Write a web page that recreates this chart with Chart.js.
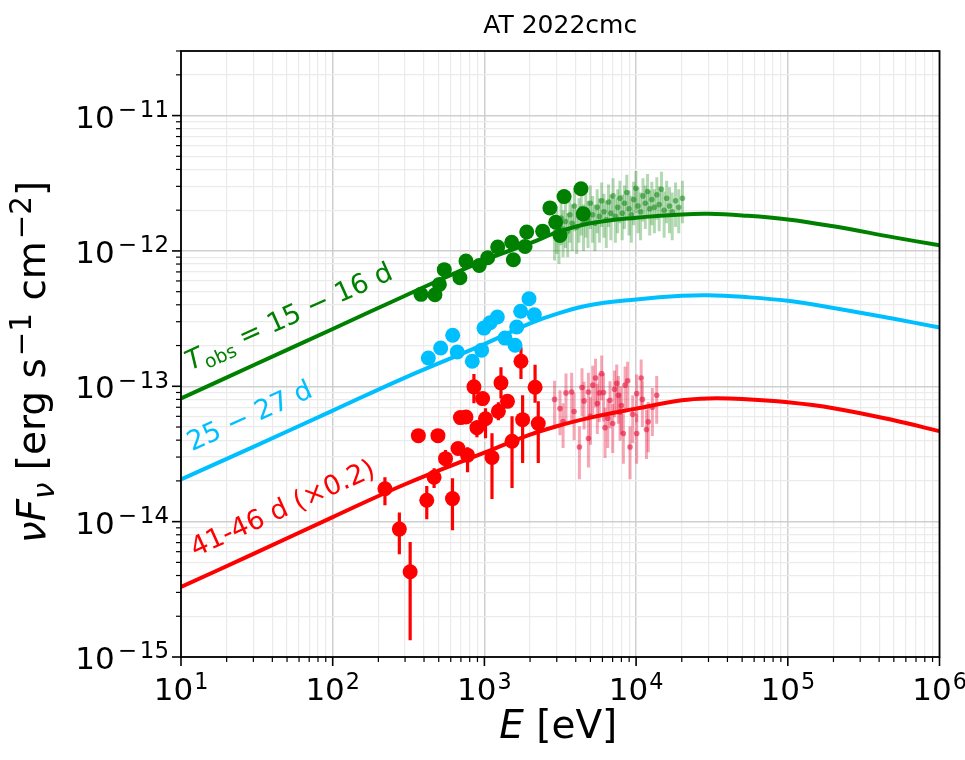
<!DOCTYPE html>
<html>
<head>
<meta charset="utf-8">
<title>AT 2022cmc</title>
<script src="https://cdn.jsdelivr.net/npm/chart.js@4.4.0/dist/chart.umd.min.js"></script>
<style>
  html, body { margin: 0; padding: 0; background: #fff; }
</style>
</head>
<body>
<canvas id="sedChart" width="965" height="760"></canvas>
<script>
// axis decades
const xExps = [1, 2, 3, 4, 5, 6];
const yExps = [-15, -14, -13, -12, -11];
const xMin = 1e1, xMax = 1e6;
const yMin = 1e-15, yMax = 3e-11;

// model curves
const modelE = [10, 30, 100, 300, 1e3, 2e3, 3e3, 5e3, 1e4, 2e4, 3e4, 5e4, 1e5, 2e5, 5e5, 1e6];
const modelEarly = [8.14e-14, 1.43e-13, 2.65e-13, 4.67e-13, 8.53e-13, 1.14e-12, 1.37e-12, 1.60e-12, 1.76e-12, 1.86e-12, 1.88e-12, 1.83e-12, 1.71e-12, 1.52e-12, 1.26e-12, 1.10e-12];
const modelMid = [2.05e-14, 3.57e-14, 6.61e-14, 1.16e-13, 2.05e-13, 2.92e-13, 3.43e-13, 3.99e-13, 4.38e-13, 4.66e-13, 4.71e-13, 4.58e-13, 4.28e-13, 3.79e-13, 3.15e-13, 2.72e-13];
const modelLate = [3.29e-15, 5.78e-15, 1.08e-14, 1.89e-14, 3.23e-14, 4.39e-14, 5.07e-14, 5.87e-14, 6.84e-14, 7.89e-14, 8.14e-14, 8.06e-14, 7.62e-14, 6.89e-14, 5.61e-14, 4.66e-14];

// 15-16 d, big markers
const earlyE = [382, 472, 505, 544, 690, 756, 925, 1051, 1224, 1552, 1514, 1854, 1901, 2421, 2705, 2950, 3149, 3350, 4334, 4488];
const earlyF = [4.78e-13, 4.75e-13, 5.66e-13, 7.27e-13, 6.34e-13, 8.41e-13, 7.81e-13, 8.91e-13, 1.07e-12, 8.61e-13, 1.16e-12, 1.08e-12, 1.38e-12, 1.40e-12, 2.08e-12, 1.63e-12, 1.30e-12, 2.52e-12, 2.88e-12, 1.88e-12];

// 15-16 d, faint points with errors
const earlyHardE = [2900, 3000, 3100, 3200, 3300, 3420, 3540, 3660, 3790, 3920, 4060, 4200, 4350, 4500, 4660, 4820, 4990, 5170, 5350, 5540, 5730, 5930, 6140, 6360, 6580, 6810, 7050, 7300, 7560, 7820, 8100, 8380, 8680, 8980, 9300, 9630, 9970, 10300, 10700, 11100, 11500, 11900, 12300, 12700, 13200, 13700, 14200, 14700, 15300, 15900, 16600, 17300, 18200, 19100, 20200];
const earlyHardF = [1.35e-12, 1.55e-12, 1.30e-12, 1.75e-12, 1.45e-12, 1.65e-12, 1.40e-12, 1.85e-12, 1.60e-12, 2.15e-12, 1.50e-12, 1.80e-12, 2.05e-12, 1.60e-12, 1.95e-12, 1.70e-12, 2.25e-12, 1.85e-12, 1.60e-12, 2.10e-12, 1.80e-12, 2.35e-12, 1.95e-12, 1.70e-12, 2.30e-12, 1.90e-12, 2.55e-12, 1.80e-12, 2.10e-12, 2.45e-12, 1.90e-12, 2.25e-12, 2.70e-12, 2.05e-12, 1.85e-12, 2.40e-12, 2.90e-12, 2.15e-12, 1.95e-12, 2.55e-12, 2.25e-12, 2.75e-12, 2.05e-12, 2.40e-12, 2.10e-12, 2.60e-12, 2.20e-12, 2.85e-12, 2.00e-12, 2.45e-12, 2.15e-12, 1.95e-12, 2.35e-12, 2.10e-12, 2.45e-12];
const earlyHardErr = [0.50e-12, 0.60e-12, 0.50e-12, 0.65e-12, 0.55e-12, 0.60e-12, 0.50e-12, 0.70e-12, 0.60e-12, 0.75e-12, 0.55e-12, 0.65e-12, 0.75e-12, 0.60e-12, 0.70e-12, 0.65e-12, 0.80e-12, 0.70e-12, 0.60e-12, 0.75e-12, 0.65e-12, 0.85e-12, 0.70e-12, 0.65e-12, 0.80e-12, 0.70e-12, 0.90e-12, 0.65e-12, 0.75e-12, 0.85e-12, 0.70e-12, 0.80e-12, 0.95e-12, 0.75e-12, 0.70e-12, 0.85e-12, 1.00e-12, 0.80e-12, 0.75e-12, 0.90e-12, 0.80e-12, 0.95e-12, 0.75e-12, 0.85e-12, 0.75e-12, 0.90e-12, 0.80e-12, 1.00e-12, 0.75e-12, 0.85e-12, 0.80e-12, 0.75e-12, 0.85e-12, 0.75e-12, 0.85e-12];

// 25-27 d
const midE = [427, 515, 618, 662, 832, 959, 994, 1089, 1217, 1367, 1592, 1633, 1734, 1968, 2133];
const midF = [1.62e-13, 1.92e-13, 2.38e-13, 1.79e-13, 1.53e-13, 1.85e-13, 2.69e-13, 2.95e-13, 3.25e-13, 2.27e-13, 2.01e-13, 2.74e-13, 3.58e-13, 4.43e-13, 3.38e-13];

// 41-46 d (x0.2), big markers with error bars
const lateE = [221, 275, 324, 367, 417, 466, 494, 554, 616, 670, 695, 756, 774, 853, 893, 973, 1017, 1122, 1236, 1286, 1419, 1521, 1742, 1786, 2158, 2265];
const lateF = [1.75e-14, 8.81e-15, 4.26e-15, 4.32e-14, 1.44e-14, 2.13e-14, 4.32e-14, 2.92e-14, 1.48e-14, 3.47e-14, 5.87e-14, 5.93e-14, 3.10e-14, 9.91e-14, 4.95e-14, 8.11e-14, 5.75e-14, 2.98e-14, 6.53e-14, 1.06e-13, 7.74e-14, 3.93e-14, 1.53e-13, 5.67e-14, 9.84e-14, 5.31e-14];
const lateLo = [1.32e-14, 5.75e-15, 1.33e-15, 4.05e-14, 1.04e-14, 1.77e-14, 4.05e-14, 2.52e-14, 8.65e-15, 3.10e-14, 5.5e-14, 5.5e-14, 2.32e-14, 7.50e-14, 4.21e-14, 7.25e-14, 4.13e-14, 1.47e-14, 5.61e-14, 8.14e-14, 7.0e-14, 1.77e-14, 1.13e-13, 2.71e-14, 7.55e-14, 2.71e-14];
const lateHi = [2.13e-14, 1.17e-14, 7.06e-15, 4.6e-14, 1.83e-14, 2.48e-14, 4.6e-14, 3.38e-14, 2.09e-14, 3.86e-14, 6.3e-14, 6.4e-14, 3.55e-14, 1.23e-13, 5.61e-14, 9.04e-14, 6.89e-14, 4.50e-14, 7.62e-14, 1.38e-13, 8.6e-14, 6.01e-14, 1.94e-13, 8.59e-14, 1.44e-13, 7.74e-14];

// 41-46 d, faint points
const lateHardE = [2900, 3150, 3300, 3450, 3760, 3900, 4230, 4400, 4540, 4850, 4850, 5000, 5180, 5400, 5550, 5720, 5930, 6100, 6240, 6500, 6730, 7010, 7200, 7450, 7640, 7840, 8000, 8240, 8460, 8800, 9120, 9500, 10090, 10090, 10800, 11000, 11700, 12030, 12800, 13670];
const lateHardF = [8.0e-14, 6.84e-14, 5.5e-14, 8.94e-14, 9.08e-14, 6.5e-14, 3.56e-14, 9.8e-14, 7.80e-14, 4.11e-14, 9.08e-14, 6.0e-14, 1.02e-13, 1.15e-13, 7.45e-14, 8.94e-14, 1.24e-13, 9.0e-14, 4.95e-14, 5.8e-14, 7.88e-14, 5.31e-14, 9.5e-14, 1.05e-13, 8.59e-14, 6.46e-14, 7.2e-14, 4.48e-14, 1.02e-13, 1.1e-13, 3.56e-14, 6.2e-14, 8.83e-14, 4.48e-14, 1.15e-13, 8.0e-14, 4.8e-14, 5.46e-14, 7.0e-14, 8.59e-14];
const lateHardErr = [3.0e-14, 2.5e-14, 2.0e-14, 3.5e-14, 3.5e-14, 2.5e-14, 1.5e-14, 3.8e-14, 3.0e-14, 1.6e-14, 3.5e-14, 2.3e-14, 4.0e-14, 4.5e-14, 3.0e-14, 3.5e-14, 4.5e-14, 3.5e-14, 2.0e-14, 2.3e-14, 3.0e-14, 2.1e-14, 3.6e-14, 4.0e-14, 3.3e-14, 2.5e-14, 2.8e-14, 1.8e-14, 3.8e-14, 4.2e-14, 1.5e-14, 2.4e-14, 3.4e-14, 1.8e-14, 4.3e-14, 3.0e-14, 1.9e-14, 2.2e-14, 2.7e-14, 3.3e-14];

const GREEN = '#008000';
const BLUE = '#00bfff';
const RED = '#ff0000';
const FONT = '"DejaVu Sans", "Noto Sans", sans-serif';

const pts = (xs, ys) => xs.map((x, i) => ({ x: x, y: ys[i] }));

function logTicks(exps) {
    const out = [];
    exps.forEach((e, k) => {
        const last = k === exps.length - 1;
        for (let n = 1; n <= (last ? 1 : 9); n++) out.push(n * Math.pow(10, e));
    });
    return out;
}
const xTickVals = logTicks(xExps);
const yTickVals = logTicks(yExps).concat([2e-11, 3e-11]);

const isMajor = v => Math.abs(Math.log10(v) - Math.round(Math.log10(v))) < 1e-6;

function fontFor(p, size, sc) {
    const s = (p.sup || p.sub) ? size * sc : size;
    return (p.it ? 'italic ' : '') + s.toFixed(1) + 'px ' + FONT;
}

// draws a run of text pieces with italics / super- and subscripts
function drawRich(ctx, parts, x, y, size, align, sc, raise) {
    sc = sc || 0.7;
    raise = raise || 0.4;
    let w = 0;
    parts.forEach(p => { ctx.font = fontFor(p, size, sc); w += ctx.measureText(p.t).width + (p.gap || 0); });
    let cx = align === 'center' ? x - w / 2 : (align === 'right' ? x - w : x);
    ctx.textAlign = 'left';
    ctx.textBaseline = 'alphabetic';
    parts.forEach(p => {
        ctx.font = fontFor(p, size, sc);
        cx += (p.gap || 0);
        const dy = p.sup ? -size * raise : (p.sub ? size * 0.22 : 0);
        ctx.fillText(p.t, cx, y + dy);
        cx += ctx.measureText(p.t).width;
    });
}

function powLabel(e) {
    if (e < 0) return [{ t: '10' }, { t: '\u2212', sup: true, gap: 3 }, { t: String(-e), sup: true, gap: 3 }];
    return [{ t: '10' }, { t: String(e), sup: true, gap: 1 }];
}

const sedDecor = {
    id: 'sedDecor',
    beforeDatasetDraw(chart, args) {
        const ds = chart.data.datasets[args.index];
        if (!ds.yLow) return;
        const xs = chart.scales.x, ys = chart.scales.y, a = chart.chartArea;
        const ctx = chart.ctx;
        ctx.save();
        ctx.beginPath();
        ctx.rect(a.left, a.top, a.right - a.left, a.bottom - a.top);
        ctx.clip();
        ctx.strokeStyle = ds.barColor;
        ctx.lineWidth = ds.barWidth;
        ds.data.forEach((p, i) => {
            const px = xs.getPixelForValue(p.x);
            const lo = ds.yLow[i] > 0 ? ys.getPixelForValue(ds.yLow[i]) : a.bottom + 5;
            const hi = ys.getPixelForValue(ds.yHigh[i]);
            ctx.beginPath();
            ctx.moveTo(px, lo);
            ctx.lineTo(px, hi);
            ctx.stroke();
        });
        ctx.restore();
    },
    afterDraw(chart) {
        const ctx = chart.ctx;
        const xs = chart.scales.x, ys = chart.scales.y, a = chart.chartArea;
        ctx.save();
        ctx.fillStyle = '#000';
        ctx.strokeStyle = '#000';

        // ticks
        xTickVals.forEach(v => {
            const px = xs.getPixelForValue(v);
            const big = isMajor(v);
            ctx.lineWidth = big ? 1.6 : 1.2;
            ctx.beginPath();
            ctx.moveTo(px, a.bottom);
            ctx.lineTo(px, a.bottom + (big ? 9 : 5));
            ctx.stroke();
        });
        yTickVals.forEach(v => {
            const py = ys.getPixelForValue(v);
            const big = isMajor(v);
            ctx.lineWidth = big ? 1.6 : 1.2;
            ctx.beginPath();
            ctx.moveTo(a.left, py);
            ctx.lineTo(a.left - (big ? 9 : 5), py);
            ctx.stroke();
        });

        // frame
        ctx.lineWidth = 1.8;
        ctx.strokeRect(a.left, a.top, a.right - a.left, a.bottom - a.top);

        // tick labels
        xExps.forEach(e => {
            drawRich(ctx, powLabel(e), xs.getPixelForValue(Math.pow(10, e)), a.bottom + 43, 31, 'center', 0.72, 0.34);
        });
        yExps.forEach(e => {
            drawRich(ctx, powLabel(e), a.left - 12, ys.getPixelForValue(Math.pow(10, e)) + 12, 31, 'right', 0.74, 0.34);
        });

        // title and axis labels
        ctx.font = '25px ' + FONT;
        ctx.textAlign = 'center';
        ctx.fillText('AT 2022cmc', (a.left + a.right) / 2, 33);

        drawRich(ctx, [{ t: 'E', it: true }, { t: ' [eV]' }], (a.left + a.right) / 2 - 2, 738, 39, 'center');

        ctx.save();
        ctx.translate(45, (a.top + a.bottom) / 2 + 8);
        ctx.rotate(-Math.PI / 2);
        drawRich(ctx, [
            { t: '\u03bd', it: true }, { t: 'F', it: true }, { t: '\u03bd', it: true, sub: true },
            { t: ' [erg s' }, { t: '\u22121', sup: true, gap: 2 }, { t: ' cm' }, { t: '\u22122', sup: true, gap: 2 }, { t: ']' }
        ], 0, 0, 39, 'center', 0.75, 0.36);
        ctx.restore();

        // curve labels, anchored in data space
        const labels = [
            { e: 11.5, f: 1.31e-13, color: GREEN, parts: [{ t: 'T', it: true }, { t: 'obs', sub: true }, { t: ' = 15 \u2212 16 d' }] },
            { e: 11.8, f: 3.31e-14, color: BLUE, parts: [{ t: '25 \u2212 27 d' }] },
            { e: 12.4, f: 5.47e-15, color: RED, parts: [{ t: '41-46 d (\u00d70.2)' }] }
        ];
        labels.forEach(l => {
            ctx.save();
            ctx.fillStyle = l.color;
            ctx.translate(xs.getPixelForValue(l.e), ys.getPixelForValue(l.f));
            ctx.rotate(-24.3 * Math.PI / 180);
            drawRich(ctx, l.parts, 0, 0, 27, 'left');
            ctx.restore();
        });
        ctx.restore();
    }
};

function curve(ys, color) {
    return {
        data: pts(modelE, ys),
        showLine: true,
        borderColor: color,
        borderWidth: 4,
        pointRadius: 0,
        tension: 0.4,
        order: 3
    };
}

const gridColor = ctx => isMajor(ctx.tick.value) ? '#cfcfcf' : '#ebebeb';
const gridWidth = ctx => isMajor(ctx.tick.value) ? 1.5 : 1.2;

new Chart(document.getElementById('sedChart'), {
    type: 'scatter',
    data: {
        datasets: [
            {
                data: pts(earlyHardE, earlyHardF),
                yLow: earlyHardF.map((f, i) => f - earlyHardErr[i]),
                yHigh: earlyHardF.map((f, i) => f + earlyHardErr[i]),
                barColor: 'rgba(0,128,0,0.3)', barWidth: 3,
                pointRadius: 2.8, borderWidth: 0,
                backgroundColor: 'rgba(0,128,0,0.5)',
                order: 5
            },
            {
                data: pts(lateHardE, lateHardF),
                yLow: lateHardF.map((f, i) => f - lateHardErr[i]),
                yHigh: lateHardF.map((f, i) => f + lateHardErr[i]),
                barColor: 'rgba(235,20,60,0.38)', barWidth: 3,
                pointRadius: 2.8, borderWidth: 0,
                backgroundColor: 'rgba(230,20,60,0.6)',
                order: 5
            },
            curve(modelEarly, GREEN),
            curve(modelMid, BLUE),
            curve(modelLate, RED),
            {
                data: pts(earlyE, earlyF),
                pointRadius: 7.5, borderWidth: 0, backgroundColor: GREEN,
                order: 1
            },
            {
                data: pts(midE, midF),
                pointRadius: 7.5, borderWidth: 0, backgroundColor: BLUE,
                order: 1
            },
            {
                data: pts(lateE, lateF),
                yLow: lateLo, yHigh: lateHi,
                barColor: RED, barWidth: 3.2,
                pointRadius: 7.5, borderWidth: 0, backgroundColor: RED,
                order: 1
            }
        ]
    },
    options: {
        responsive: false,
        animation: false,
        events: [],
        layout: { padding: { left: 181, right: 25.5, top: 51, bottom: 103 } },
        plugins: {
            legend: { display: false },
            tooltip: { enabled: false }
        },
        scales: {
            x: {
                type: 'logarithmic',
                min: xMin, max: xMax,
                afterBuildTicks: scale => { scale.ticks = xTickVals.map(v => ({ value: v })); },
                ticks: { display: false, autoSkip: false },
                border: { display: false },
                grid: { drawTicks: false, color: gridColor, lineWidth: gridWidth }
            },
            y: {
                type: 'logarithmic',
                min: yMin, max: yMax,
                afterBuildTicks: scale => { scale.ticks = yTickVals.map(v => ({ value: v })); },
                ticks: { display: false, autoSkip: false },
                border: { display: false },
                grid: { drawTicks: false, color: gridColor, lineWidth: gridWidth }
            }
        }
    },
    plugins: [sedDecor]
});
</script>
</body>
</html>
